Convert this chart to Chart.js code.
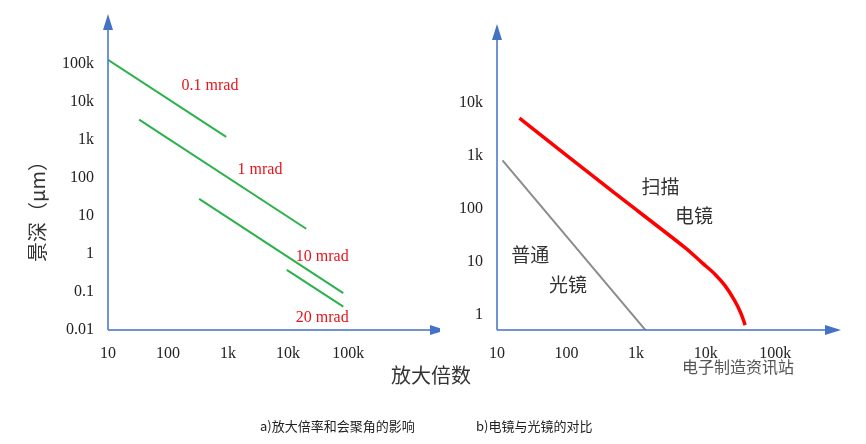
<!DOCTYPE html>
<html>
<head>
<meta charset="utf-8">
<script src="https://cdn.jsdelivr.net/npm/chart.js@4"></script>
<style>
body{margin:0;background:#fff;width:866px;height:444px;position:relative;overflow:hidden;font-family:"Noto Sans CJK SC",sans-serif}
canvas{position:absolute;top:0}
.t{position:absolute;color:#333;white-space:nowrap}
</style>
</head>
<body>
<div style="position:absolute;left:0;top:0;width:440px;height:444px"><canvas id="left"></canvas></div>
<div style="position:absolute;left:440px;top:0;width:426px;height:444px"><canvas id="right"></canvas></div>
<div class="t" style="left:22px;top:200px;font-size:20px;transform:rotate(-90deg);transform-origin:left top;top:262px">景深（μm）</div>
<div class="t" style="left:391px;top:360px;font-size:20px">放大倍数</div>
<div class="t" style="left:260px;top:416px;font-size:13px;color:#222">a)放大倍率和会聚角的影响</div>
<div class="t" style="left:476px;top:416px;font-size:13px;color:#222">b)电镜与光镜的对比</div>
<div class="t" style="left:682px;top:354px;font-size:16px;color:#555">电子制造资讯站</div>
<script>
// left chart: depth of field vs magnification for several convergence angles
var leftTicksX = [10, 100, 1000, 10000, 100000];
var leftTicksY = [0.01, 0.1, 1, 10, 100, 1000, 10000, 100000];
var line01 = [{x: 10, y: 126000}, {x: 930, y: 1200}];
var line1 = [{x: 33, y: 3400}, {x: 20000, y: 4.6}];
var line10 = [{x: 330, y: 28}, {x: 83000, y: 0.093}];
var line20 = [{x: 9500, y: 0.38}, {x: 83000, y: 0.041}];
var leftNotes = [
  {text: '0.1 mrad', x: 500, y: 26000},
  {text: '1 mrad', x: 3400, y: 160},
  {text: '10 mrad', x: 37000, y: 0.83},
  {text: '20 mrad', x: 37000, y: 0.021}
];

// right chart: electron microscope vs optical microscope
var rightTicksX = [10, 100, 1000, 10000, 100000];
var rightTicksY = [1, 10, 100, 1000, 10000];
var optical = [{x: 12, y: 830}, {x: 1480, y: 0.46}];
var sem = [{x: 21, y: 5200}, {x: 430, y: 230}, {x: 5000, y: 19}, {x: 9000, y: 9.6},
           {x: 13500, y: 6}, {x: 19000, y: 3.6}, {x: 26000, y: 1.9}, {x: 32000, y: 1.1}, {x: 37000, y: 0.65}];
var rightNotes = [
  {text: '扫描', x: 2240, y: 270},
  {text: '电镜', x: 6800, y: 74},
  {text: '普通', x: 30, y: 13.5},
  {text: '光镜', x: 105, y: 3.7}
];

function fmt(v) {
  if (v >= 1000) return (v / 1000) + 'k';
  return String(v);
}

var axisPlugin = {
  id: 'arrows',
  afterDraw: function(chart) {
    var ctx = chart.ctx, a = chart.chartArea;
    ctx.save();
    ctx.strokeStyle = '#4472C4';
    ctx.fillStyle = '#4472C4';
    ctx.lineWidth = 1.5;
    ctx.beginPath();
    ctx.moveTo(a.left, a.bottom); ctx.lineTo(a.left, a.top + 4);
    ctx.moveTo(a.left, a.bottom); ctx.lineTo(a.right - 4, a.bottom);
    ctx.stroke();
    ctx.beginPath();
    ctx.moveTo(a.left, a.top - 6); ctx.lineTo(a.left - 5, a.top + 10); ctx.lineTo(a.left + 5, a.top + 10); ctx.fill();
    ctx.beginPath();
    ctx.moveTo(a.right + 6, a.bottom); ctx.lineTo(a.right - 10, a.bottom - 5); ctx.lineTo(a.right - 10, a.bottom + 5); ctx.fill();
    var o = chart.options.plugins.arrows;
    ctx.fillStyle = o.color;
    ctx.font = o.font;
    ctx.textAlign = 'center';
    ctx.textBaseline = 'middle';
    o.notes.forEach(function(n) {
      ctx.fillText(n.text, chart.scales.x.getPixelForValue(n.x), chart.scales.y.getPixelForValue(n.y));
    });
    ctx.restore();
  }
};

function makeChart(id, datasets, xr, yr, ticksX, ticksY, yWidth, padRight, padTop, notes, color, font) {
  var tickFont = {family: 'Liberation Serif', size: 16};
  return new Chart(document.getElementById(id), {
    type: 'line',
    data: {datasets: datasets},
    plugins: [axisPlugin],
    options: {
      responsive: true,
      maintainAspectRatio: false,
      animation: false,
      layout: {padding: {top: padTop, right: padRight, left: 0, bottom: 0}},
      plugins: {legend: {display: false}, tooltip: {enabled: false},
        arrows: {notes: notes, color: color, font: font}},
      elements: {point: {radius: 0}},
      scales: {
        x: {type: 'logarithmic', min: xr[0], max: xr[1],
          grid: {display: false}, border: {display: false},
          afterBuildTicks: function(s) { s.ticks = ticksX.map(function(v) { return {value: v}; }); },
          afterFit: function(s) { s.height = 114; },
          ticks: {color: '#222', font: tickFont, maxRotation: 0, padding: 6, callback: function(v) { return fmt(v); }}},
        y: {type: 'logarithmic', min: yr[0], max: yr[1],
          grid: {display: false}, border: {display: false},
          afterBuildTicks: function(s) { s.ticks = ticksY.map(function(v) { return {value: v}; }); },
          afterFit: function(s) { s.width = yWidth; },
          ticks: {color: '#222', font: tickFont, padding: 6, callback: function(v) { return fmt(v); }}}
      }
    }
  });
}

var green = '#2BB24C';
makeChart('left', [
  {data: line01, borderColor: green, borderWidth: 2},
  {data: line1, borderColor: green, borderWidth: 2},
  {data: line10, borderColor: green, borderWidth: 2},
  {data: line20, borderColor: green, borderWidth: 2}
], [10, Math.pow(10, 6.53)], [0.01, Math.pow(10, 6.15)], leftTicksX, leftTicksY, 108, 0, 20,
  leftNotes, '#E8141C', '16px "Liberation Serif"');

makeChart('right', [
  {data: optical, borderColor: '#8C8C8C', borderWidth: 2},
  {data: sem, borderColor: '#FF0000', borderWidth: 3.5, tension: 0.3}
], [10, Math.pow(10, 5.86)], [Math.pow(10, -0.28), Math.pow(10, 5.38)], rightTicksX, rightTicksY, 57, 31, 30,
  rightNotes, '#333', '19px "Noto Sans CJK SC"');
</script>
</body>
</html>
